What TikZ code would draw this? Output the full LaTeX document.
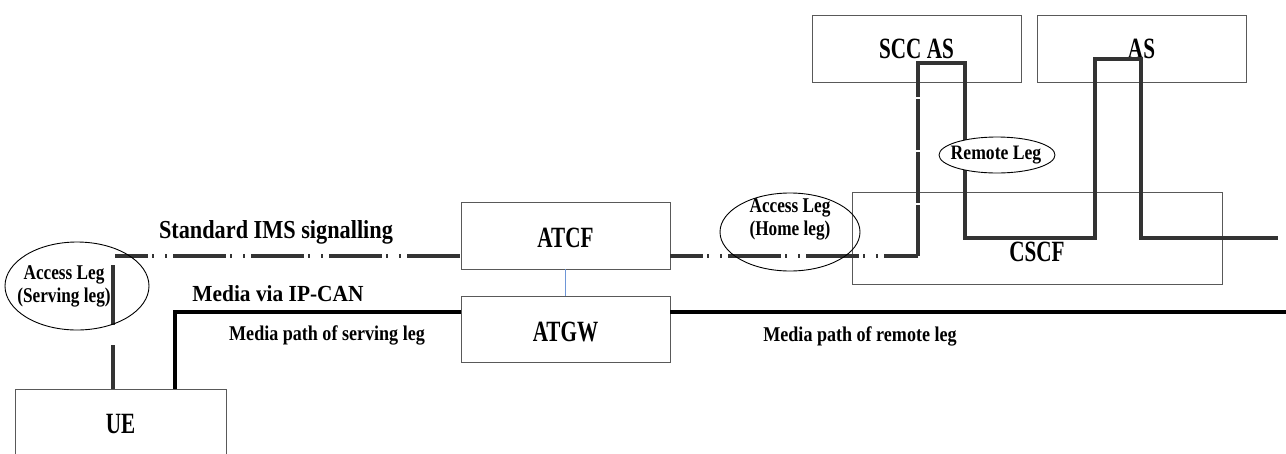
\documentclass[tikz,border=0pt]{standalone}
\usepackage{fontspec}
\setmainfont{Liberation Serif}
\newfontfamily\boxfont{Liberation Serif}[FakeStretch=0.72]
\newfontfamily\legfont{Liberation Serif}[FakeStretch=0.82]
\newfontfamily\pathfont{Liberation Serif}[FakeStretch=0.86]
\newfontfamily\canfont{Liberation Serif}[FakeStretch=0.93]
\usetikzlibrary{shapes.geometric}
\definecolor{linkblue}{RGB}{110,150,215}
\tikzset{%
  box/.style={draw=black!65,line width=0.9pt,shape=rectangle,inner sep=0,minimum width=209pt,minimum height=67pt},
  boxtxt/.style={font=\boxfont\fontsize{29.4}{32}\selectfont\bfseries,inner sep=0,anchor=base},
  leg/.style={draw,shape=ellipse,line width=0.9pt,inner sep=0},
  legtxt/.style={font=\legfont\fontsize{21}{23}\selectfont\bfseries,align=center,inner sep=0},
  imstxt/.style={font=\pathfont\fontsize{25.9}{28}\selectfont\bfseries,inner sep=0,anchor=base},
  pathtxt/.style={font=\pathfont\fontsize{21}{24}\selectfont\bfseries,inner sep=0,anchor=base},
  cantxt/.style={font=\canfont\fontsize{23}{26}\selectfont\bfseries,inner sep=0,anchor=base},
  sig/.style={draw=black!80,line width=4.5pt,dash pattern=on 53pt off 4pt on 2pt off 11pt on 2pt off 6pt,dash phase=20pt},
  sigv/.style={draw=black!80,line width=4.5pt,dash pattern=on 60pt off 20pt},
  sigup/.style={draw=black!80,line width=4.5pt,dash pattern=on 51pt off 2pt},
  media/.style={draw=black,line width=4pt},
  leg path/.style={draw=black!80,line width=4.5pt}
}
\begin{document}
\begin{tikzpicture}[x=1pt,y=-1pt]
  \useasboundingbox (0,0) rectangle (1286,453);
  % boxes
  \node[box,minimum width=211pt] (ue) at (120.5,423) {};
  \node[box] (atcf) at (565.5,235.5) {};
  \node[box,minimum height=66pt] (atgw) at (565.5,329) {};
  \node[box] (sccas) at (916.5,48.5) {};
  \node[box] (as) at (1141.5,48.5) {};
  \node[box,minimum width=370pt,minimum height=92pt] (cscf) at (1037,238) {};
  \node[boxtxt] (uetxt) at (120.5,433) {UE};
  \node[boxtxt] (atcftxt) at (565.5,247) {ATCF};
  \node[boxtxt] (atgwtxt) at (565.5,341) {ATGW};
  \node[boxtxt] (sccastxt) at (916.5,58) {SCC AS};
  \node[boxtxt] (astxt) at (1141.5,58) {AS};
  \node[boxtxt] (cscftxt) at (1037,261) {CSCF};
  % texts
  \node[imstxt] (ims) at (276,238) {Standard IMS signalling};
  \node[cantxt] (ipcan) at (278,301) {Media via IP-CAN};
  \node[pathtxt] (servpath) at (327,340) {Media path of serving leg};
  \node[pathtxt] (remotepath) at (860,341) {Media path of remote leg};
  % signalling
  \coordinate (sigL) at (115,256);
  \coordinate (sigup) at (918,256);
  \draw[sigv] (113,265) -- (ue.north -| 113,0);
  \draw[sig] (sigL) -- (sigL -| atcf.west);
  \draw[sig] (sigL -| atcf.east) -- (sigup);
  \draw[sigup] (sigup) -- (918,63);
  \draw[leg path] (916,63) -- (965,63) -- (965,238) -- (1095,238) -- (1095,59) -- (1141,59) -- (1141,238) -- (1278,238);
  \draw[linkblue,line width=0.8pt] (atcf.south) -- (atgw.north);
  % media
  \coordinate (medL) at (175,312);
  \draw[media] (medL |- ue.north) |- (medL -| atgw.west);
  \draw[media] (medL -| atgw.east) -- (1286,312);
  % legs
  \node[leg,minimum width=144pt,minimum height=88pt] (servleg) at (77,286) {};
  \node[legtxt] (servtxt) at (64,286) {Access Leg\\(Serving leg)};
  \node[leg,minimum width=140pt,minimum height=78pt] (homeleg) at (790,232) {};
  \node[legtxt] (hometxt) at (790,219) {Access Leg\\(Home leg)};
  \node[leg,fill=white,minimum width=116pt,minimum height=36pt] (remoteleg) at (997,155) {};
  \node[pathtxt,font=\pathfont\fontsize{20.5}{24}\selectfont\bfseries] (remotetxt) at (996,159) {Remote Leg};
\end{tikzpicture}
\end{document}
